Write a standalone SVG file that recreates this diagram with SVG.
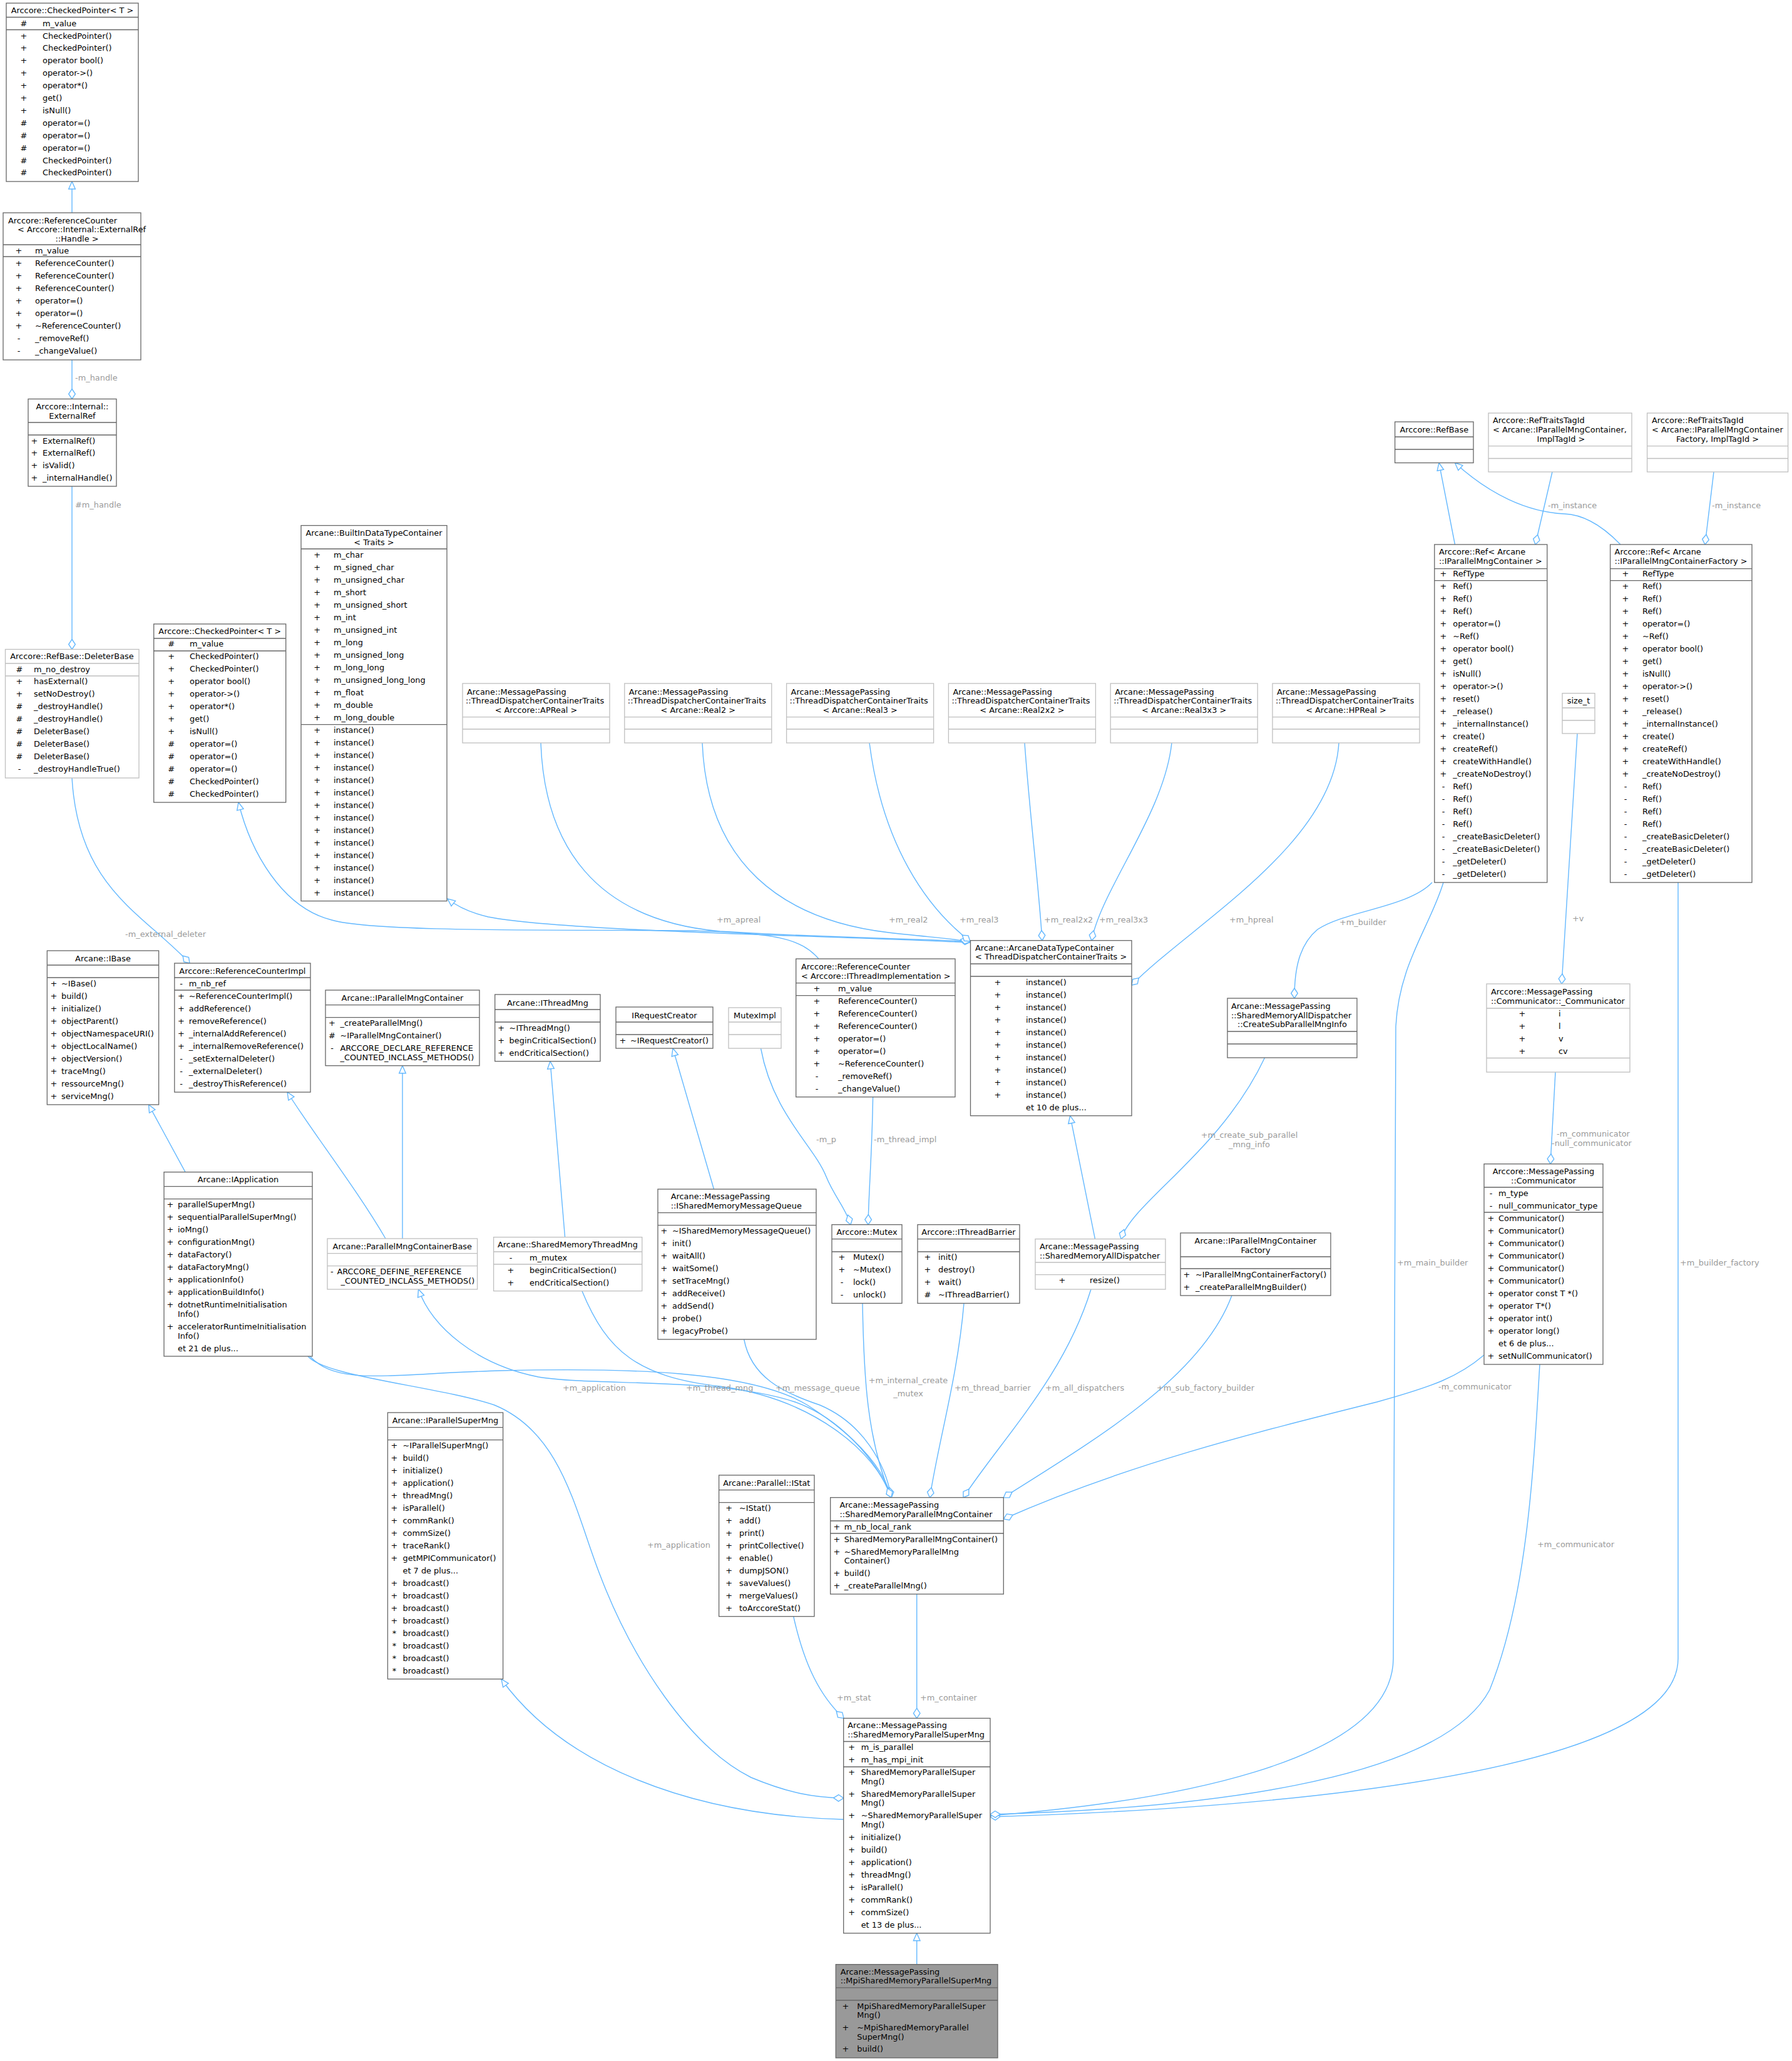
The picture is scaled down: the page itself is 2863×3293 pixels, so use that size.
<svg xmlns="http://www.w3.org/2000/svg" width="2863" height="3293" viewBox="0 0 2863 3293">
<defs>
<style>
text{font-family:"DejaVu Sans","Liberation Sans",sans-serif;font-size:12.9px;fill:#000}
.c{text-anchor:middle}
.n{fill:#fff;stroke:#666;stroke-width:1.3}
.nl{fill:#fff;stroke:#bfbfbf;stroke-width:1.3}
.nm{fill:#999;stroke:#666;stroke-width:1.3}
.d{stroke:#666;stroke-width:1.3;fill:none}
.dl{stroke:#bfbfbf;stroke-width:1.3;fill:none}
.e{fill:none;stroke:#63B8FF;stroke-width:1.4}
.i{marker-end:url(#tri)}
.a{marker-end:url(#dia)}
text.l{fill:#9a9a9a}
</style>
<marker id="tri" viewBox="-1 -7 15 14" refX="12" refY="0" markerWidth="15" markerHeight="14" markerUnits="userSpaceOnUse" orient="auto"><path d="M0,-5.3 L12,0 L0,5.3 z" fill="#fff" stroke="#63B8FF" stroke-width="1.4"/></marker>
<marker id="dia" viewBox="-1 -7 18 14" refX="16" refY="0" markerWidth="18" markerHeight="14" markerUnits="userSpaceOnUse" orient="auto"><path d="M0,0 L8,-5.3 L16,0 L8,5.3 z" fill="#fff" stroke="#63B8FF" stroke-width="1.4"/></marker>
</defs>
<rect width="2863" height="3293" fill="#fff"/>

<g id="edges">
<path class="e i" d="M115,340 V290"/>
<path class="e a" d="M115,575 V637.5"/>
<text class="l" x="120" y="608">-m_handle</text>
<path class="e a" d="M115,777 V1037.5"/>
<text class="l" x="120" y="811">#m_handle</text>
<path class="e a" d="M115,1243 C125,1420 230,1460 303,1539"/>
<text class="l" x="200" y="1497">-m_external_deleter</text>
<path class="e i" d="M1308,1532 C1280,1500 1240,1490 1100,1487 C900,1485 600,1490 530,1470 C450,1450 400,1360 381,1282"/>
<path class="e i" d="M1550,1506 C1300,1494 900,1488 780,1465 C750,1458 730,1448 715,1436"/>
<path class="e a" d="M864,1187 C870,1350 950,1470 1150,1488 C1350,1500 1500,1500 1550,1505"/>
<text class="l" x="1145" y="1474">+m_apreal</text>
<path class="e a" d="M1122,1187 C1130,1380 1250,1470 1420,1490 C1480,1497 1530,1500 1550,1505"/>
<text class="l" x="1420" y="1474">+m_real2</text>
<path class="e a" d="M1389,1187 C1410,1350 1480,1450 1550,1504"/>
<text class="l" x="1533" y="1474">+m_real3</text>
<path class="e a" d="M1637,1187 C1645,1300 1660,1420 1665,1502.7"/>
<text class="l" x="1668" y="1474">+m_real2x2</text>
<path class="e a" d="M1872,1187 C1860,1300 1760,1420 1744,1502.7"/>
<text class="l" x="1756" y="1474">+m_real3x3</text>
<path class="e a" d="M2139,1187 C2130,1350 1900,1480 1808,1574"/>
<text class="l" x="1964" y="1474">+m_hpreal</text>
<path class="e a" d="M1215.5,1675 C1235,1780 1300,1830 1320,1880 C1332,1910 1352,1932 1359,1956.7"/>
<text class="l" x="1304" y="1825">-m_p</text>
<path class="e a" d="M1394.6,1752.7 C1393,1850 1388,1900 1387,1956.7"/>
<text class="l" x="1396" y="1825">-m_thread_impl</text>
<path class="e i" d="M643,1979 V1702.7"/>
<path class="e i" d="M616,1979 C570,1900 500,1810 459,1745"/>
<path class="e i" d="M296,1872.7 L237.5,1765"/>
<path class="e i" d="M902.6,1976.7 L879,1695.7"/>
<path class="e i" d="M1140.5,1900 L1075,1675"/>
<path class="e i" d="M1749.5,1979.6 L1709.7,1782.7"/>
<path class="e a" d="M2020.6,1690 C1950,1840 1810,1920 1791,1979.6"/>
<text class="l c" x="1996" y="1817.5">+m_create_sub_parallel</text>
<text class="l c" x="1996" y="1832.5">_mng_info</text>
<path class="e a" d="M2288,1410 C2250,1450 2150,1455 2105,1485 C2075,1510 2068,1550 2068,1595"/>
<text class="l" x="2140" y="1478">+m_builder</text>
<path class="e a" d="M2306,1410 C2285,1480 2235,1540 2230,1640 L2226,2650 C2225,2820 1850,2880 1582,2901"/>
<text class="l" x="2232" y="2022">+m_main_builder</text>
<path class="e a" d="M2681,1410 L2681,2650 C2681,2840 2000,2890 1582,2903"/>
<text class="l" x="2684" y="2022">+m_builder_factory</text>
<path class="e a" d="M2460,2180 C2450,2350 2440,2550 2380,2700 C2300,2850 1900,2890 1582,2899"/>
<text class="l" x="2456" y="2472">+m_communicator</text>
<path class="e a" d="M2371,2165 C2330,2200 2290,2215 2200,2240 C2000,2290 1800,2340 1603.3,2427"/>
<text class="l" x="2298" y="2220">-m_communicator</text>
<path class="e a" d="M495,2167 C540,2215 620,2195 800,2190 C1000,2185 1200,2190 1290,2245 C1360,2290 1410,2340 1424,2392.7"/>
<text class="l" x="899" y="2222">+m_application</text>
<path class="e i" d="M1424,2392.7 C1400,2330 1340,2265 1270,2240 C1150,2200 950,2215 860,2200 C760,2180 690,2120 668.5,2060"/>
<path class="e a" d="M930,2063 C970,2160 1020,2200 1150,2215 C1300,2235 1400,2320 1424,2392.7"/>
<text class="l" x="1096" y="2222">+m_thread_mng</text>
<path class="e a" d="M1188.7,2140 C1200,2200 1250,2225 1310,2245 C1380,2275 1415,2340 1424,2392.7"/>
<text class="l" x="1239" y="2222">+m_message_queue</text>
<path class="e a" d="M1378,2082.4 C1380,2200 1385,2300 1424,2392.7"/>
<text class="l c" x="1451" y="2209.5">+m_internal_create</text>
<text class="l c" x="1451" y="2230.5">_mutex</text>
<path class="e a" d="M1540,2082.4 C1530,2200 1500,2300 1485.5,2392.7"/>
<text class="l" x="1525" y="2222">+m_thread_barrier</text>
<path class="e a" d="M1743,2060 C1700,2200 1600,2300 1539,2392.7"/>
<text class="l" x="1670" y="2222">+m_all_dispatchers</text>
<path class="e a" d="M1968,2070 C1920,2200 1750,2300 1603.3,2392.7"/>
<text class="l" x="1848" y="2222">+m_sub_factory_builder</text>
<path class="e a" d="M492,2167 C520,2200 700,2215 790,2245 C900,2290 920,2420 960,2520 C1010,2650 1100,2790 1200,2840 C1260,2865 1300,2872 1347.7,2873"/>
<text class="l" x="1034" y="2473">+m_application</text>
<path class="e i" d="M1347.7,2907 C1100,2900 900,2820 801,2683"/>
<path class="e a" d="M1267.8,2583 C1285,2660 1310,2710 1348,2745.4"/>
<text class="l" x="1337" y="2717">+m_stat</text>
<path class="e a" d="M1464.7,2547 V2745.4"/>
<text class="l" x="1470" y="2717">+m_container</text>
<path class="e i" d="M1464.7,3138.7 V3088.8"/>
<path class="e a" d="M2520,1172 L2495,1572"/>
<text class="l" x="2512" y="1472">+v</text>
<path class="e a" d="M2485,1713 L2477,1859.7"/>
<text class="l" x="2487" y="1816">-m_communicator</text>
<text class="l" x="2479" y="1831">-null_communicator</text>
<path class="e i" d="M2324.5,870 L2299,739.5"/>
<path class="e i" d="M2589,870 C2560,840 2530,822 2499,821 C2440,818 2380,790 2324.5,739.5"/>
<path class="e a" d="M2480,754 L2453,870"/>
<text class="l" x="2473" y="812">-m_instance</text>
<path class="e a" d="M2738,754 L2724,870"/>
<text class="l" x="2735" y="812">-m_instance</text>
</g>

<g id="n_checkedpointer_top">
<rect class="n" x="10" y="5" width="211" height="285"/>
<path class="d" d="M10,27.5H221M10,47.5H221"/>
<text class="c" x="115.5" y="21">Arccore::CheckedPointer&lt; T &gt;</text>
<text class="c"><tspan x="38" y="41.5">#</tspan><tspan x="38" y="61.5">+</tspan><tspan x="38" y="81.4">+</tspan><tspan x="38" y="101.3">+</tspan><tspan x="38" y="121.2">+</tspan><tspan x="38" y="141.1">+</tspan><tspan x="38" y="161">+</tspan><tspan x="38" y="180.9">+</tspan><tspan x="38" y="200.8">#</tspan><tspan x="38" y="220.7">#</tspan><tspan x="38" y="240.6">#</tspan><tspan x="38" y="260.5">#</tspan><tspan x="38" y="280.4">#</tspan></text>
<text><tspan x="68" y="41.5">m_value</tspan><tspan x="68" y="61.5">CheckedPointer()</tspan><tspan x="68" y="81.4">CheckedPointer()</tspan><tspan x="68" y="101.3">operator bool()</tspan><tspan x="68" y="121.2">operator-&gt;()</tspan><tspan x="68" y="141.1">operator*()</tspan><tspan x="68" y="161">get()</tspan><tspan x="68" y="180.9">isNull()</tspan><tspan x="68" y="200.8">operator=()</tspan><tspan x="68" y="220.7">operator=()</tspan><tspan x="68" y="240.6">operator=()</tspan><tspan x="68" y="260.5">CheckedPointer()</tspan><tspan x="68" y="280.4">CheckedPointer()</tspan></text>
</g>

<g id="n_refcounter_handle">
<rect class="n" x="5" y="340" width="220" height="235"/>
<path class="d" d="M5,391H225M5,410H225"/>
<text x="13" y="356.5">Arccore::ReferenceCounter</text>
<text x="28" y="371">&lt; Arccore::Internal::ExternalRef</text>
<text class="c" x="123" y="385.5">::Handle &gt;</text>
<text class="c"><tspan x="30" y="404.5">+</tspan><tspan x="30" y="424.5">+</tspan><tspan x="30" y="444.6">+</tspan><tspan x="30" y="464.7">+</tspan><tspan x="30" y="484.8">+</tspan><tspan x="30" y="504.9">+</tspan><tspan x="30" y="525">+</tspan><tspan x="30" y="545.1">-</tspan><tspan x="30" y="565.2">-</tspan></text>
<text><tspan x="56" y="404.5">m_value</tspan><tspan x="56" y="424.5">ReferenceCounter()</tspan><tspan x="56" y="444.6">ReferenceCounter()</tspan><tspan x="56" y="464.7">ReferenceCounter()</tspan><tspan x="56" y="484.8">operator=()</tspan><tspan x="56" y="504.9">operator=()</tspan><tspan x="56" y="525">~ReferenceCounter()</tspan><tspan x="56" y="545.1">_removeRef()</tspan><tspan x="56" y="565.2">_changeValue()</tspan></text>
</g>

<g id="n_externalref">
<rect class="n" x="45" y="637.5" width="141" height="139.5"/>
<path class="d" d="M45,675H186M45,695H186"/>
<text class="c" x="115.5" y="653.5">Arccore::Internal::</text>
<text class="c" x="115.5" y="668.5">ExternalRef</text>
<text class="c"><tspan x="55" y="708.5">+</tspan><tspan x="55" y="728.3">+</tspan><tspan x="55" y="748.2">+</tspan><tspan x="55" y="768.2">+</tspan></text>
<text><tspan x="68" y="708.5">ExternalRef()</tspan><tspan x="68" y="728.3">ExternalRef()</tspan><tspan x="68" y="748.2">isValid()</tspan><tspan x="68" y="768.2">_internalHandle()</tspan></text>
</g>

<g id="n_deleterbase">
<rect class="nl" x="8.5" y="1037.5" width="213.5" height="205.5"/>
<path class="dl" d="M8.5,1060H222M8.5,1080H222"/>
<text class="c" x="115" y="1052.5">Arccore::RefBase::DeleterBase</text>
<text class="c"><tspan x="31" y="1073.5">#</tspan><tspan x="31" y="1092.5">+</tspan><tspan x="31" y="1112.5">+</tspan><tspan x="31" y="1132.5">#</tspan><tspan x="31" y="1152.5">#</tspan><tspan x="31" y="1172.5">#</tspan><tspan x="31" y="1192.5">#</tspan><tspan x="31" y="1212.5">#</tspan><tspan x="31" y="1232.5">-</tspan></text>
<text><tspan x="54" y="1073.5">m_no_destroy</tspan><tspan x="54" y="1092.5">hasExternal()</tspan><tspan x="54" y="1112.5">setNoDestroy()</tspan><tspan x="54" y="1132.5">_destroyHandle()</tspan><tspan x="54" y="1152.5">_destroyHandle()</tspan><tspan x="54" y="1172.5">DeleterBase()</tspan><tspan x="54" y="1192.5">DeleterBase()</tspan><tspan x="54" y="1212.5">DeleterBase()</tspan><tspan x="54" y="1232.5">_destroyHandleTrue()</tspan></text>
</g>

<g id="n_checkedpointer_mid">
<rect class="n" x="245.7" y="997" width="211" height="285"/>
<path class="d" d="M245.7,1020H456.7M245.7,1040H456.7"/>
<text class="c" x="351.2" y="1013">Arccore::CheckedPointer&lt; T &gt;</text>
<text class="c"><tspan x="273.7" y="1033">#</tspan><tspan x="273.7" y="1052.5">+</tspan><tspan x="273.7" y="1072.5">+</tspan><tspan x="273.7" y="1092.5">+</tspan><tspan x="273.7" y="1112.5">+</tspan><tspan x="273.7" y="1132.5">+</tspan><tspan x="273.7" y="1152.5">+</tspan><tspan x="273.7" y="1172.5">+</tspan><tspan x="273.7" y="1192.5">#</tspan><tspan x="273.7" y="1212.5">#</tspan><tspan x="273.7" y="1232.5">#</tspan><tspan x="273.7" y="1252.5">#</tspan><tspan x="273.7" y="1272.5">#</tspan></text>
<text><tspan x="303" y="1033">m_value</tspan><tspan x="303" y="1052.5">CheckedPointer()</tspan><tspan x="303" y="1072.5">CheckedPointer()</tspan><tspan x="303" y="1092.5">operator bool()</tspan><tspan x="303" y="1112.5">operator-&gt;()</tspan><tspan x="303" y="1132.5">operator*()</tspan><tspan x="303" y="1152.5">get()</tspan><tspan x="303" y="1172.5">isNull()</tspan><tspan x="303" y="1192.5">operator=()</tspan><tspan x="303" y="1212.5">operator=()</tspan><tspan x="303" y="1232.5">operator=()</tspan><tspan x="303" y="1252.5">CheckedPointer()</tspan><tspan x="303" y="1272.5">CheckedPointer()</tspan></text>
</g>

<g id="n_builtin">
<rect class="n" x="481" y="839.6" width="233" height="600"/>
<path class="d" d="M481,877H714M481,1157.6H714"/>
<text class="c" x="597.5" y="856">Arcane::BuiltInDataTypeContainer</text>
<text class="c" x="597.5" y="870.5">&lt; Traits &gt;</text>
<text class="c"><tspan x="506.7" y="890.5">+</tspan><tspan x="506.7" y="910.5">+</tspan><tspan x="506.7" y="930.5">+</tspan><tspan x="506.7" y="950.5">+</tspan><tspan x="506.7" y="970.5">+</tspan><tspan x="506.7" y="990.5">+</tspan><tspan x="506.7" y="1010.5">+</tspan><tspan x="506.7" y="1030.5">+</tspan><tspan x="506.7" y="1050.5">+</tspan><tspan x="506.7" y="1070.5">+</tspan><tspan x="506.7" y="1090.5">+</tspan><tspan x="506.7" y="1110.5">+</tspan><tspan x="506.7" y="1130.5">+</tspan><tspan x="506.7" y="1150.5">+</tspan><tspan x="506.7" y="1170.5">+</tspan><tspan x="506.7" y="1190.5">+</tspan><tspan x="506.7" y="1210.5">+</tspan><tspan x="506.7" y="1230.5">+</tspan><tspan x="506.7" y="1250.5">+</tspan><tspan x="506.7" y="1270.5">+</tspan><tspan x="506.7" y="1290.5">+</tspan><tspan x="506.7" y="1310.5">+</tspan><tspan x="506.7" y="1330.5">+</tspan><tspan x="506.7" y="1350.5">+</tspan><tspan x="506.7" y="1370.5">+</tspan><tspan x="506.7" y="1390.5">+</tspan><tspan x="506.7" y="1410.5">+</tspan><tspan x="506.7" y="1430.5">+</tspan></text>
<text><tspan x="533" y="890.5">m_char</tspan><tspan x="533" y="910.5">m_signed_char</tspan><tspan x="533" y="930.5">m_unsigned_char</tspan><tspan x="533" y="950.5">m_short</tspan><tspan x="533" y="970.5">m_unsigned_short</tspan><tspan x="533" y="990.5">m_int</tspan><tspan x="533" y="1010.5">m_unsigned_int</tspan><tspan x="533" y="1030.5">m_long</tspan><tspan x="533" y="1050.5">m_unsigned_long</tspan><tspan x="533" y="1070.5">m_long_long</tspan><tspan x="533" y="1090.5">m_unsigned_long_long</tspan><tspan x="533" y="1110.5">m_float</tspan><tspan x="533" y="1130.5">m_double</tspan><tspan x="533" y="1150.5">m_long_double</tspan><tspan x="533" y="1170.5">instance()</tspan><tspan x="533" y="1190.5">instance()</tspan><tspan x="533" y="1210.5">instance()</tspan><tspan x="533" y="1230.5">instance()</tspan><tspan x="533" y="1250.5">instance()</tspan><tspan x="533" y="1270.5">instance()</tspan><tspan x="533" y="1290.5">instance()</tspan><tspan x="533" y="1310.5">instance()</tspan><tspan x="533" y="1330.5">instance()</tspan><tspan x="533" y="1350.5">instance()</tspan><tspan x="533" y="1370.5">instance()</tspan><tspan x="533" y="1390.5">instance()</tspan><tspan x="533" y="1410.5">instance()</tspan><tspan x="533" y="1430.5">instance()</tspan></text>
</g>

<g id="n_traits_apreal">
<rect class="nl" x="739" y="1092" width="235" height="95"/>
<path class="dl" d="M739,1145.7H974M739,1165H974"/>
<text x="746" y="1109.5">Arcane::MessagePassing</text>
<text x="744" y="1124">::ThreadDispatcherContainerTraits</text>
<text class="c" x="856.5" y="1138.5">&lt; Arccore::APReal &gt;</text>
</g>
<g id="n_traits_real2">
<rect class="nl" x="997.8" y="1092" width="235" height="95"/>
<path class="dl" d="M997.8,1145.7H1232.8M997.8,1165H1232.8"/>
<text x="1004.8" y="1109.5">Arcane::MessagePassing</text>
<text x="1002.8" y="1124">::ThreadDispatcherContainerTraits</text>
<text class="c" x="1115.3" y="1138.5">&lt; Arcane::Real2 &gt;</text>
</g>
<g id="n_traits_real3">
<rect class="nl" x="1256.6" y="1092" width="235" height="95"/>
<path class="dl" d="M1256.6,1145.7H1491.6M1256.6,1165H1491.6"/>
<text x="1263.6" y="1109.5">Arcane::MessagePassing</text>
<text x="1261.6" y="1124">::ThreadDispatcherContainerTraits</text>
<text class="c" x="1374.1" y="1138.5">&lt; Arcane::Real3 &gt;</text>
</g>
<g id="n_traits_real2x2">
<rect class="nl" x="1515.4" y="1092" width="235" height="95"/>
<path class="dl" d="M1515.4,1145.7H1750.4M1515.4,1165H1750.4"/>
<text x="1522.4" y="1109.5">Arcane::MessagePassing</text>
<text x="1520.4" y="1124">::ThreadDispatcherContainerTraits</text>
<text class="c" x="1632.9" y="1138.5">&lt; Arcane::Real2x2 &gt;</text>
</g>
<g id="n_traits_real3x3">
<rect class="nl" x="1774.2" y="1092" width="235" height="95"/>
<path class="dl" d="M1774.2,1145.7H2009.2M1774.2,1165H2009.2"/>
<text x="1781.2" y="1109.5">Arcane::MessagePassing</text>
<text x="1779.2" y="1124">::ThreadDispatcherContainerTraits</text>
<text class="c" x="1891.7" y="1138.5">&lt; Arcane::Real3x3 &gt;</text>
</g>
<g id="n_traits_hpreal">
<rect class="nl" x="2033" y="1092" width="235" height="95"/>
<path class="dl" d="M2033,1145.7H2268M2033,1165H2268"/>
<text x="2040" y="1109.5">Arcane::MessagePassing</text>
<text x="2038" y="1124">::ThreadDispatcherContainerTraits</text>
<text class="c" x="2150.5" y="1138.5">&lt; Arcane::HPReal &gt;</text>
</g>

<g id="n_arcanedatatypecontainer">
<rect class="n" x="1550.5" y="1502.7" width="257.5" height="280"/>
<path class="d" d="M1550.5,1540H1808M1550.5,1560H1808"/>
<text x="1558" y="1518.5">Arcane::ArcaneDataTypeContainer</text>
<text x="1558" y="1533">&lt; ThreadDispatcherContainerTraits &gt;</text>
<text class="c"><tspan x="1594" y="1573.5">+</tspan><tspan x="1594" y="1593.5">+</tspan><tspan x="1594" y="1613.5">+</tspan><tspan x="1594" y="1633.5">+</tspan><tspan x="1594" y="1653.5">+</tspan><tspan x="1594" y="1673.5">+</tspan><tspan x="1594" y="1693.5">+</tspan><tspan x="1594" y="1713.5">+</tspan><tspan x="1594" y="1733.5">+</tspan><tspan x="1594" y="1753.5">+</tspan></text>
<text><tspan x="1639" y="1573.5">instance()</tspan><tspan x="1639" y="1593.5">instance()</tspan><tspan x="1639" y="1613.5">instance()</tspan><tspan x="1639" y="1633.5">instance()</tspan><tspan x="1639" y="1653.5">instance()</tspan><tspan x="1639" y="1673.5">instance()</tspan><tspan x="1639" y="1693.5">instance()</tspan><tspan x="1639" y="1713.5">instance()</tspan><tspan x="1639" y="1733.5">instance()</tspan><tspan x="1639" y="1753.5">instance()</tspan><tspan x="1639" y="1773.5">et 10 de plus...</tspan></text>
</g>

<g id="n_refbase">
<rect class="n" x="2228.6" y="674" width="125.4" height="65.5"/>
<path class="d" d="M2228.6,698H2354M2228.6,718H2354"/>
<text class="c" x="2291.3" y="690.5">Arccore::RefBase</text>
</g>

<g id="n_reftraits_container">
<rect class="nl" x="2378" y="660" width="229" height="94"/>
<path class="dl" d="M2378,712.6H2607M2378,732.5H2607"/>
<text x="2385" y="675.5">Arccore::RefTraitsTagId</text>
<text x="2385" y="690.5">&lt; Arcane::IParallelMngContainer,</text>
<text class="c" x="2494" y="705.5">ImplTagId &gt;</text>
</g>

<g id="n_reftraits_factory">
<rect class="nl" x="2631.6" y="660" width="225" height="94"/>
<path class="dl" d="M2631.6,712.6H2856.6M2631.6,732.5H2856.6"/>
<text x="2639" y="675.5">Arccore::RefTraitsTagId</text>
<text x="2639" y="690.5">&lt; Arcane::IParallelMngContainer</text>
<text class="c" x="2744" y="705.5">Factory, ImplTagId &gt;</text>
</g>

<g id="n_ref_container">
<rect class="n" x="2291.8" y="870" width="180" height="540"/>
<path class="d" d="M2291.8,908.7H2471.8M2291.8,927.6H2471.8"/>
<text x="2299" y="886">Arccore::Ref&lt; Arcane</text>
<text x="2299" y="901">::IParallelMngContainer &gt;</text>
<text class="c"><tspan x="2306" y="921">+</tspan><tspan x="2306" y="941">+</tspan><tspan x="2306" y="961">+</tspan><tspan x="2306" y="981">+</tspan><tspan x="2306" y="1001">+</tspan><tspan x="2306" y="1021">+</tspan><tspan x="2306" y="1041">+</tspan><tspan x="2306" y="1061">+</tspan><tspan x="2306" y="1081">+</tspan><tspan x="2306" y="1101">+</tspan><tspan x="2306" y="1121">+</tspan><tspan x="2306" y="1141">+</tspan><tspan x="2306" y="1161">+</tspan><tspan x="2306" y="1181">+</tspan><tspan x="2306" y="1201">+</tspan><tspan x="2306" y="1221">+</tspan><tspan x="2306" y="1241">+</tspan><tspan x="2306" y="1261">-</tspan><tspan x="2306" y="1281">-</tspan><tspan x="2306" y="1301">-</tspan><tspan x="2306" y="1321">-</tspan><tspan x="2306" y="1341">-</tspan><tspan x="2306" y="1361">-</tspan><tspan x="2306" y="1381">-</tspan><tspan x="2306" y="1401">-</tspan></text>
<text><tspan x="2321.3" y="921">RefType</tspan><tspan x="2321.3" y="941">Ref()</tspan><tspan x="2321.3" y="961">Ref()</tspan><tspan x="2321.3" y="981">Ref()</tspan><tspan x="2321.3" y="1001">operator=()</tspan><tspan x="2321.3" y="1021">~Ref()</tspan><tspan x="2321.3" y="1041">operator bool()</tspan><tspan x="2321.3" y="1061">get()</tspan><tspan x="2321.3" y="1081">isNull()</tspan><tspan x="2321.3" y="1101">operator-&gt;()</tspan><tspan x="2321.3" y="1121">reset()</tspan><tspan x="2321.3" y="1141">_release()</tspan><tspan x="2321.3" y="1161">_internalInstance()</tspan><tspan x="2321.3" y="1181">create()</tspan><tspan x="2321.3" y="1201">createRef()</tspan><tspan x="2321.3" y="1221">createWithHandle()</tspan><tspan x="2321.3" y="1241">_createNoDestroy()</tspan><tspan x="2321.3" y="1261">Ref()</tspan><tspan x="2321.3" y="1281">Ref()</tspan><tspan x="2321.3" y="1301">Ref()</tspan><tspan x="2321.3" y="1321">Ref()</tspan><tspan x="2321.3" y="1341">_createBasicDeleter()</tspan><tspan x="2321.3" y="1361">_createBasicDeleter()</tspan><tspan x="2321.3" y="1381">_getDeleter()</tspan><tspan x="2321.3" y="1401">_getDeleter()</tspan></text>
</g>

<g id="n_ref_factory">
<rect class="n" x="2572.6" y="870" width="226.4" height="540"/>
<path class="d" d="M2572.6,908.7H2799M2572.6,927.6H2799"/>
<text x="2579.6" y="886">Arccore::Ref&lt; Arcane</text>
<text x="2579.6" y="901">::IParallelMngContainerFactory &gt;</text>
<text class="c"><tspan x="2597" y="921">+</tspan><tspan x="2597" y="941">+</tspan><tspan x="2597" y="961">+</tspan><tspan x="2597" y="981">+</tspan><tspan x="2597" y="1001">+</tspan><tspan x="2597" y="1021">+</tspan><tspan x="2597" y="1041">+</tspan><tspan x="2597" y="1061">+</tspan><tspan x="2597" y="1081">+</tspan><tspan x="2597" y="1101">+</tspan><tspan x="2597" y="1121">+</tspan><tspan x="2597" y="1141">+</tspan><tspan x="2597" y="1161">+</tspan><tspan x="2597" y="1181">+</tspan><tspan x="2597" y="1201">+</tspan><tspan x="2597" y="1221">+</tspan><tspan x="2597" y="1241">+</tspan><tspan x="2597" y="1261">-</tspan><tspan x="2597" y="1281">-</tspan><tspan x="2597" y="1301">-</tspan><tspan x="2597" y="1321">-</tspan><tspan x="2597" y="1341">-</tspan><tspan x="2597" y="1361">-</tspan><tspan x="2597" y="1381">-</tspan><tspan x="2597" y="1401">-</tspan></text>
<text><tspan x="2624" y="921">RefType</tspan><tspan x="2624" y="941">Ref()</tspan><tspan x="2624" y="961">Ref()</tspan><tspan x="2624" y="981">Ref()</tspan><tspan x="2624" y="1001">operator=()</tspan><tspan x="2624" y="1021">~Ref()</tspan><tspan x="2624" y="1041">operator bool()</tspan><tspan x="2624" y="1061">get()</tspan><tspan x="2624" y="1081">isNull()</tspan><tspan x="2624" y="1101">operator-&gt;()</tspan><tspan x="2624" y="1121">reset()</tspan><tspan x="2624" y="1141">_release()</tspan><tspan x="2624" y="1161">_internalInstance()</tspan><tspan x="2624" y="1181">create()</tspan><tspan x="2624" y="1201">createRef()</tspan><tspan x="2624" y="1221">createWithHandle()</tspan><tspan x="2624" y="1241">_createNoDestroy()</tspan><tspan x="2624" y="1261">Ref()</tspan><tspan x="2624" y="1281">Ref()</tspan><tspan x="2624" y="1301">Ref()</tspan><tspan x="2624" y="1321">Ref()</tspan><tspan x="2624" y="1341">_createBasicDeleter()</tspan><tspan x="2624" y="1361">_createBasicDeleter()</tspan><tspan x="2624" y="1381">_getDeleter()</tspan><tspan x="2624" y="1401">_getDeleter()</tspan></text>
</g>

<g id="n_size_t">
<rect class="nl" x="2496" y="1107.7" width="52" height="64.3"/>
<path class="dl" d="M2496,1131H2548M2496,1151H2548"/>
<text class="c" x="2522" y="1123.5">size_t</text>
</g>

<g id="n_communicator_inner">
<rect class="nl" x="2375" y="1572" width="229" height="141"/>
<path class="dl" d="M2375,1611H2604M2375,1690.5H2604"/>
<text x="2382" y="1589">Arccore::MessagePassing</text>
<text x="2382" y="1604">::Communicator::_Communicator</text>
<text class="c"><tspan x="2432" y="1623.5">+</tspan><tspan x="2432" y="1643.5">+</tspan><tspan x="2432" y="1664">+</tspan><tspan x="2432" y="1683.5">+</tspan></text>
<text><tspan x="2490" y="1623.5">i</tspan><tspan x="2490" y="1643.5">l</tspan><tspan x="2490" y="1664">v</tspan><tspan x="2490" y="1683.5">cv</tspan></text>
</g>

<g id="n_communicator">
<rect class="n" x="2371" y="1859.7" width="190" height="320.3"/>
<path class="d" d="M2371,1897H2561M2371,1937H2561"/>
<text class="c" x="2466" y="1876">Arccore::MessagePassing</text>
<text class="c" x="2466" y="1890.5">::Communicator</text>
<text class="c"><tspan x="2382" y="1910.5">-</tspan><tspan x="2382" y="1930.5">-</tspan><tspan x="2382" y="1950.5">+</tspan><tspan x="2382" y="1970.5">+</tspan><tspan x="2382" y="1990.5">+</tspan><tspan x="2382" y="2010.5">+</tspan><tspan x="2382" y="2030.5">+</tspan><tspan x="2382" y="2050.5">+</tspan><tspan x="2382" y="2070.5">+</tspan><tspan x="2382" y="2090.5">+</tspan><tspan x="2382" y="2110.5">+</tspan><tspan x="2382" y="2130.5">+</tspan><tspan x="2382" y="2170.5">+</tspan></text>
<text><tspan x="2394" y="1910.5">m_type</tspan><tspan x="2394" y="1930.5">null_communicator_type</tspan><tspan x="2394" y="1950.5">Communicator()</tspan><tspan x="2394" y="1970.5">Communicator()</tspan><tspan x="2394" y="1990.5">Communicator()</tspan><tspan x="2394" y="2010.5">Communicator()</tspan><tspan x="2394" y="2030.5">Communicator()</tspan><tspan x="2394" y="2050.5">Communicator()</tspan><tspan x="2394" y="2070.5">operator const T *()</tspan><tspan x="2394" y="2090.5">operator T*()</tspan><tspan x="2394" y="2110.5">operator int()</tspan><tspan x="2394" y="2130.5">operator long()</tspan><tspan x="2394" y="2150.5">et 6 de plus...</tspan><tspan x="2394" y="2170.5">setNullCommunicator()</tspan></text>
</g>

<g id="n_createsubparallelmnginfo">
<rect class="n" x="1961" y="1595" width="207" height="95"/>
<path class="d" d="M1961,1648H2168M1961,1668H2168"/>
<text x="1967" y="1612">Arcane::MessagePassing</text>
<text x="1967" y="1626.5">::SharedMemoryAllDispatcher</text>
<text class="c" x="2064.5" y="1641">::CreateSubParallelMngInfo</text>
</g>

<g id="n_sharedmemoryalldispatcher">
<rect class="nl" x="1654" y="1979.6" width="208" height="80.4"/>
<path class="dl" d="M1654,2017H1862M1654,2036.7H1862"/>
<text x="1661" y="1996">Arcane::MessagePassing</text>
<text x="1661" y="2010.5">::SharedMemoryAllDispatcher</text>
<text class="c" x="1697" y="2050">+</text>
<text x="1741" y="2050">resize()</text>
</g>

<g id="n_iparallelmngcontainerfactory">
<rect class="n" x="1886" y="1970" width="240" height="100"/>
<path class="d" d="M1886,2008H2126M1886,2027H2126"/>
<text class="c" x="2006" y="1987">Arcane::IParallelMngContainer</text>
<text class="c" x="2006" y="2001.5">Factory</text>
<text class="c"><tspan x="1896" y="2040.5">+</tspan><tspan x="1896" y="2060.5">+</tspan></text>
<text><tspan x="1910" y="2040.5">~IParallelMngContainerFactory()</tspan><tspan x="1910" y="2060.5">_createParallelMngBuilder()</tspan></text>
</g>

<g id="n_mutex">
<rect class="n" x="1329" y="1956.7" width="112" height="125.7"/>
<path class="d" d="M1329,1979.6H1441M1329,2000H1441"/>
<text class="c" x="1385" y="1973">Arccore::Mutex</text>
<text class="c"><tspan x="1345" y="2013">+</tspan><tspan x="1345" y="2033">+</tspan><tspan x="1345" y="2053">-</tspan><tspan x="1345" y="2073">-</tspan></text>
<text><tspan x="1363" y="2013">Mutex()</tspan><tspan x="1363" y="2033">~Mutex()</tspan><tspan x="1363" y="2053">lock()</tspan><tspan x="1363" y="2073">unlock()</tspan></text>
</g>

<g id="n_ithreadbarrier">
<rect class="n" x="1466" y="1956.7" width="163" height="125.7"/>
<path class="d" d="M1466,1979.6H1629M1466,2000H1629"/>
<text class="c" x="1547.5" y="1973">Arccore::IThreadBarrier</text>
<text class="c"><tspan x="1482" y="2013">+</tspan><tspan x="1482" y="2033">+</tspan><tspan x="1482" y="2053">+</tspan><tspan x="1482" y="2073">#</tspan></text>
<text><tspan x="1499" y="2013">init()</tspan><tspan x="1499" y="2033">destroy()</tspan><tspan x="1499" y="2053">wait()</tspan><tspan x="1499" y="2073">~IThreadBarrier()</tspan></text>
</g>

<g id="n_muteximpl">
<rect class="nl" x="1164" y="1610" width="84" height="65"/>
<path class="dl" d="M1164,1633H1248M1164,1653H1248"/>
<text class="c" x="1206" y="1626.5">MutexImpl</text>
</g>

<g id="n_refcounter_threadimpl">
<rect class="n" x="1271.7" y="1532" width="254.3" height="220.7"/>
<path class="d" d="M1271.7,1570.7H1526M1271.7,1590.7H1526"/>
<text x="1280" y="1549">Arccore::ReferenceCounter</text>
<text x="1280" y="1563.5">&lt; Arccore::IThreadImplementation &gt;</text>
<text class="c"><tspan x="1305" y="1583.5">+</tspan><tspan x="1305" y="1603.5">+</tspan><tspan x="1305" y="1623.5">+</tspan><tspan x="1305" y="1643.5">+</tspan><tspan x="1305" y="1663.5">+</tspan><tspan x="1305" y="1683.5">+</tspan><tspan x="1305" y="1703.5">+</tspan><tspan x="1305" y="1723.5">-</tspan><tspan x="1305" y="1743.5">-</tspan></text>
<text><tspan x="1339" y="1583.5">m_value</tspan><tspan x="1339" y="1603.5">ReferenceCounter()</tspan><tspan x="1339" y="1623.5">ReferenceCounter()</tspan><tspan x="1339" y="1643.5">ReferenceCounter()</tspan><tspan x="1339" y="1663.5">operator=()</tspan><tspan x="1339" y="1683.5">operator=()</tspan><tspan x="1339" y="1703.5">~ReferenceCounter()</tspan><tspan x="1339" y="1723.5">_removeRef()</tspan><tspan x="1339" y="1743.5">_changeValue()</tspan></text>
</g>

<g id="n_irequestcreator">
<rect class="n" x="984" y="1609" width="155" height="66"/>
<path class="d" d="M984,1633H1139M984,1653H1139"/>
<text class="c" x="1061.5" y="1627">IRequestCreator</text>
<text class="c" x="995" y="1667">+</text>
<text x="1007" y="1667">~IRequestCreator()</text>
</g>

<g id="n_ithreadmng">
<rect class="n" x="790.7" y="1589" width="168.3" height="106.7"/>
<path class="d" d="M790.7,1613H959M790.7,1633H959"/>
<text class="c" x="875" y="1607">Arcane::IThreadMng</text>
<text class="c"><tspan x="800.6" y="1646.5">+</tspan><tspan x="800.6" y="1666.5">+</tspan><tspan x="800.6" y="1686.5">+</tspan></text>
<text><tspan x="813.6" y="1646.5">~IThreadMng()</tspan><tspan x="813.6" y="1666.5">beginCriticalSection()</tspan><tspan x="813.6" y="1686.5">endCriticalSection()</tspan></text>
</g>

<g id="n_iparallelmngcontainer">
<rect class="n" x="520" y="1582" width="246" height="120.7"/>
<path class="d" d="M520,1605.7H766M520,1625.7H766"/>
<text class="c" x="643" y="1598.5">Arcane::IParallelMngContainer</text>
<text class="c"><tspan x="530.5" y="1638.5">+</tspan><tspan x="530.5" y="1658.5">#</tspan><tspan x="530.5" y="1678.5">-</tspan></text>
<text><tspan x="543.5" y="1638.5">_createParallelMng()</tspan><tspan x="543.5" y="1658.5">~IParallelMngContainer()</tspan><tspan x="543.5" y="1678.5">ARCCORE_DECLARE_REFERENCE</tspan><tspan x="543.5" y="1693.5">_COUNTED_INCLASS_METHODS()</tspan></text>
</g>

<g id="n_referencecounterimpl">
<rect class="n" x="278.8" y="1539" width="217.2" height="206"/>
<path class="d" d="M278.8,1562H496M278.8,1582H496"/>
<text class="c" x="387.4" y="1556">Arccore::ReferenceCounterImpl</text>
<text class="c"><tspan x="289.5" y="1575.5">-</tspan><tspan x="289.5" y="1595.5">+</tspan><tspan x="289.5" y="1615.5">+</tspan><tspan x="289.5" y="1635.5">+</tspan><tspan x="289.5" y="1655.5">+</tspan><tspan x="289.5" y="1675.5">+</tspan><tspan x="289.5" y="1695.5">-</tspan><tspan x="289.5" y="1715.5">-</tspan><tspan x="289.5" y="1735.5">-</tspan></text>
<text><tspan x="301.8" y="1575.5">m_nb_ref</tspan><tspan x="301.8" y="1595.5">~ReferenceCounterImpl()</tspan><tspan x="301.8" y="1615.5">addReference()</tspan><tspan x="301.8" y="1635.5">removeReference()</tspan><tspan x="301.8" y="1655.5">_internalAddReference()</tspan><tspan x="301.8" y="1675.5">_internalRemoveReference()</tspan><tspan x="301.8" y="1695.5">_setExternalDeleter()</tspan><tspan x="301.8" y="1715.5">_externalDeleter()</tspan><tspan x="301.8" y="1735.5">_destroyThisReference()</tspan></text>
</g>

<g id="n_ibase">
<rect class="n" x="75.3" y="1519" width="178.3" height="246"/>
<path class="d" d="M75.3,1542H253.6M75.3,1562H253.6"/>
<text class="c" x="164.5" y="1536">Arcane::IBase</text>
<text class="c"><tspan x="86" y="1575.5">+</tspan><tspan x="86" y="1595.5">+</tspan><tspan x="86" y="1615.5">+</tspan><tspan x="86" y="1635.5">+</tspan><tspan x="86" y="1655.5">+</tspan><tspan x="86" y="1675.5">+</tspan><tspan x="86" y="1695.5">+</tspan><tspan x="86" y="1715.5">+</tspan><tspan x="86" y="1735.5">+</tspan><tspan x="86" y="1755.5">+</tspan></text>
<text><tspan x="98" y="1575.5">~IBase()</tspan><tspan x="98" y="1595.5">build()</tspan><tspan x="98" y="1615.5">initialize()</tspan><tspan x="98" y="1635.5">objectParent()</tspan><tspan x="98" y="1655.5">objectNamespaceURI()</tspan><tspan x="98" y="1675.5">objectLocalName()</tspan><tspan x="98" y="1695.5">objectVersion()</tspan><tspan x="98" y="1715.5">traceMng()</tspan><tspan x="98" y="1735.5">ressourceMng()</tspan><tspan x="98" y="1755.5">serviceMng()</tspan></text>
</g>

<g id="n_iapplication">
<rect class="n" x="262" y="1872.7" width="237" height="294.3"/>
<path class="d" d="M262,1895.7H499M262,1915.7H499"/>
<text class="c" x="380.5" y="1888.5">Arcane::IApplication</text>
<text class="c"><tspan x="272" y="1928.5">+</tspan><tspan x="272" y="1948.5">+</tspan><tspan x="272" y="1968.5">+</tspan><tspan x="272" y="1988.5">+</tspan><tspan x="272" y="2008.5">+</tspan><tspan x="272" y="2028.5">+</tspan><tspan x="272" y="2048.5">+</tspan><tspan x="272" y="2068.5">+</tspan><tspan x="272" y="2088.5">+</tspan><tspan x="272" y="2123.5">+</tspan></text>
<text><tspan x="284" y="1928.5">parallelSuperMng()</tspan><tspan x="284" y="1948.5">sequentialParallelSuperMng()</tspan><tspan x="284" y="1968.5">ioMng()</tspan><tspan x="284" y="1988.5">configurationMng()</tspan><tspan x="284" y="2008.5">dataFactory()</tspan><tspan x="284" y="2028.5">dataFactoryMng()</tspan><tspan x="284" y="2048.5">applicationInfo()</tspan><tspan x="284" y="2068.5">applicationBuildInfo()</tspan><tspan x="284" y="2088.5">dotnetRuntimeInitialisation</tspan><tspan x="284" y="2103.5">Info()</tspan><tspan x="284" y="2123.5">acceleratorRuntimeInitialisation</tspan><tspan x="284" y="2138.5">Info()</tspan><tspan x="284" y="2158.5">et 21 de plus...</tspan></text>
</g>

<g id="n_parallelmngcontainerbase">
<rect class="nl" x="523" y="1979" width="239.6" height="81"/>
<path class="dl" d="M523,2002.7H762.6M523,2022.7H762.6"/>
<text class="c" x="642.8" y="1996">Arcane::ParallelMngContainerBase</text>
<text x="528" y="2036">-</text>
<text x="538.4" y="2036">ARCCORE_DEFINE_REFERENCE</text>
<text x="544.5" y="2051">_COUNTED_INCLASS_METHODS()</text>
</g>

<g id="n_sharedmemorythreadmng">
<rect class="nl" x="788.6" y="1976.7" width="237.2" height="86"/>
<path class="dl" d="M788.6,2000H1025.8M788.6,2020H1025.8"/>
<text class="c" x="907" y="1993">Arcane::SharedMemoryThreadMng</text>
<text class="c"><tspan x="816" y="2013.5">-</tspan><tspan x="816" y="2033.5">+</tspan><tspan x="816" y="2053.5">+</tspan></text>
<text><tspan x="846" y="2013.5">m_mutex</tspan><tspan x="846" y="2033.5">beginCriticalSection()</tspan><tspan x="846" y="2053.5">endCriticalSection()</tspan></text>
</g>

<g id="n_isharedmemorymessagequeue">
<rect class="n" x="1051" y="1900" width="253" height="240"/>
<path class="d" d="M1051,1937.7H1304M1051,1957.7H1304"/>
<text x="1071.7" y="1916">Arcane::MessagePassing</text>
<text x="1071.7" y="1931">::ISharedMemoryMessageQueue</text>
<text class="c"><tspan x="1061" y="1971">+</tspan><tspan x="1061" y="1991">+</tspan><tspan x="1061" y="2011">+</tspan><tspan x="1061" y="2031">+</tspan><tspan x="1061" y="2051">+</tspan><tspan x="1061" y="2071">+</tspan><tspan x="1061" y="2091">+</tspan><tspan x="1061" y="2111">+</tspan><tspan x="1061" y="2131">+</tspan></text>
<text><tspan x="1074" y="1971">~ISharedMemoryMessageQueue()</tspan><tspan x="1074" y="1991">init()</tspan><tspan x="1074" y="2011">waitAll()</tspan><tspan x="1074" y="2031">waitSome()</tspan><tspan x="1074" y="2051">setTraceMng()</tspan><tspan x="1074" y="2071">addReceive()</tspan><tspan x="1074" y="2091">addSend()</tspan><tspan x="1074" y="2111">probe()</tspan><tspan x="1074" y="2131">legacyProbe()</tspan></text>
</g>

<g id="n_iparallelsupermng">
<rect class="n" x="619.4" y="2257" width="184.2" height="425.7"/>
<path class="d" d="M619.4,2280.7H803.6M619.4,2300.7H803.6"/>
<text class="c" x="711.5" y="2274">Arcane::IParallelSuperMng</text>
<text class="c"><tspan x="630" y="2314">+</tspan><tspan x="630" y="2334">+</tspan><tspan x="630" y="2354">+</tspan><tspan x="630" y="2374">+</tspan><tspan x="630" y="2394">+</tspan><tspan x="630" y="2414">+</tspan><tspan x="630" y="2434">+</tspan><tspan x="630" y="2454">+</tspan><tspan x="630" y="2474">+</tspan><tspan x="630" y="2494">+</tspan><tspan x="630" y="2534">+</tspan><tspan x="630" y="2554">+</tspan><tspan x="630" y="2574">+</tspan><tspan x="630" y="2594">+</tspan><tspan x="630" y="2614">*</tspan><tspan x="630" y="2634">*</tspan><tspan x="630" y="2654">*</tspan><tspan x="630" y="2674">*</tspan></text>
<text><tspan x="643.5" y="2314">~IParallelSuperMng()</tspan><tspan x="643.5" y="2334">build()</tspan><tspan x="643.5" y="2354">initialize()</tspan><tspan x="643.5" y="2374">application()</tspan><tspan x="643.5" y="2394">threadMng()</tspan><tspan x="643.5" y="2414">isParallel()</tspan><tspan x="643.5" y="2434">commRank()</tspan><tspan x="643.5" y="2454">commSize()</tspan><tspan x="643.5" y="2474">traceRank()</tspan><tspan x="643.5" y="2494">getMPICommunicator()</tspan><tspan x="643.5" y="2514">et 7 de plus...</tspan><tspan x="643.5" y="2534">broadcast()</tspan><tspan x="643.5" y="2554">broadcast()</tspan><tspan x="643.5" y="2574">broadcast()</tspan><tspan x="643.5" y="2594">broadcast()</tspan><tspan x="643.5" y="2614">broadcast()</tspan><tspan x="643.5" y="2634">broadcast()</tspan><tspan x="643.5" y="2654">broadcast()</tspan><tspan x="643.5" y="2674">broadcast()</tspan></text>
</g>

<g id="n_istat">
<rect class="n" x="1148.6" y="2357" width="152.4" height="225.7"/>
<path class="d" d="M1148.6,2380.7H1301M1148.6,2400.7H1301"/>
<text class="c" x="1224.8" y="2374">Arcane::Parallel::IStat</text>
<text class="c"><tspan x="1164.6" y="2414">+</tspan><tspan x="1164.6" y="2434">+</tspan><tspan x="1164.6" y="2454">+</tspan><tspan x="1164.6" y="2474">+</tspan><tspan x="1164.6" y="2494">+</tspan><tspan x="1164.6" y="2514">+</tspan><tspan x="1164.6" y="2534">+</tspan><tspan x="1164.6" y="2554">+</tspan><tspan x="1164.6" y="2574">+</tspan></text>
<text><tspan x="1181" y="2414">~IStat()</tspan><tspan x="1181" y="2434">add()</tspan><tspan x="1181" y="2454">print()</tspan><tspan x="1181" y="2474">printCollective()</tspan><tspan x="1181" y="2494">enable()</tspan><tspan x="1181" y="2514">dumpJSON()</tspan><tspan x="1181" y="2534">saveValues()</tspan><tspan x="1181" y="2554">mergeValues()</tspan><tspan x="1181" y="2574">toArccoreStat()</tspan></text>
</g>

<g id="n_sharedmemoryparallelmngcontainer">
<rect class="n" x="1326.7" y="2392.7" width="276.6" height="154.3"/>
<path class="d" d="M1326.7,2430H1603.3M1326.7,2450H1603.3"/>
<text x="1341.5" y="2409">Arcane::MessagePassing</text>
<text x="1341.5" y="2423.5">::SharedMemoryParallelMngContainer</text>
<text class="c"><tspan x="1336.8" y="2443.5">+</tspan><tspan x="1336.8" y="2463.5">+</tspan><tspan x="1336.8" y="2483.5">+</tspan><tspan x="1336.8" y="2517.5">+</tspan><tspan x="1336.8" y="2538">+</tspan></text>
<text><tspan x="1348.8" y="2443.5">m_nb_local_rank</tspan><tspan x="1348.8" y="2463.5">SharedMemoryParallelMngContainer()</tspan><tspan x="1348.8" y="2483.5">~SharedMemoryParallelMng</tspan><tspan x="1348.8" y="2498">Container()</tspan><tspan x="1348.8" y="2517.5">build()</tspan><tspan x="1348.8" y="2538">_createParallelMng()</tspan></text>
</g>

<g id="n_sharedmemoryparallelsupermng">
<rect class="n" x="1347.7" y="2745.4" width="234.3" height="343.4"/>
<path class="d" d="M1347.7,2782.5H1582M1347.7,2823H1582"/>
<text x="1354.3" y="2761">Arcane::MessagePassing</text>
<text x="1354.3" y="2775.5">::SharedMemoryParallelSuperMng</text>
<text class="c"><tspan x="1360.7" y="2795.5">+</tspan><tspan x="1360.7" y="2816">+</tspan><tspan x="1360.7" y="2836">+</tspan><tspan x="1360.7" y="2870.5">+</tspan><tspan x="1360.7" y="2905">+</tspan><tspan x="1360.7" y="2939.5">+</tspan><tspan x="1360.7" y="2959.5">+</tspan><tspan x="1360.7" y="2979.5">+</tspan><tspan x="1360.7" y="2999.5">+</tspan><tspan x="1360.7" y="3019.5">+</tspan><tspan x="1360.7" y="3039.5">+</tspan><tspan x="1360.7" y="3059.5">+</tspan></text>
<text><tspan x="1375.7" y="2795.5">m_is_parallel</tspan><tspan x="1375.7" y="2816">m_has_mpi_init</tspan><tspan x="1375.7" y="2836">SharedMemoryParallelSuper</tspan><tspan x="1375.7" y="2850.5">Mng()</tspan><tspan x="1375.7" y="2870.5">SharedMemoryParallelSuper</tspan><tspan x="1375.7" y="2885">Mng()</tspan><tspan x="1375.7" y="2905">~SharedMemoryParallelSuper</tspan><tspan x="1375.7" y="2919.5">Mng()</tspan><tspan x="1375.7" y="2939.5">initialize()</tspan><tspan x="1375.7" y="2959.5">build()</tspan><tspan x="1375.7" y="2979.5">application()</tspan><tspan x="1375.7" y="2999.5">threadMng()</tspan><tspan x="1375.7" y="3019.5">isParallel()</tspan><tspan x="1375.7" y="3039.5">commRank()</tspan><tspan x="1375.7" y="3059.5">commSize()</tspan><tspan x="1375.7" y="3080">et 13 de plus...</tspan></text>
</g>

<g id="n_mpisharedmemoryparallelsupermng">
<rect class="nm" x="1335.3" y="3138.7" width="258.7" height="149.3"/>
<path class="d" d="M1335.3,3175.8H1594M1335.3,3196H1594"/>
<text x="1342.7" y="3154.5">Arcane::MessagePassing</text>
<text x="1342.7" y="3169">::MpiSharedMemoryParallelSuperMng</text>
<text class="c"><tspan x="1351" y="3209.5">+</tspan><tspan x="1351" y="3243.5">+</tspan><tspan x="1351" y="3278">+</tspan></text>
<text><tspan x="1369.3" y="3209.5">MpiSharedMemoryParallelSuper</tspan><tspan x="1369.3" y="3224">Mng()</tspan><tspan x="1369.3" y="3243.5">~MpiSharedMemoryParallel</tspan><tspan x="1369.3" y="3258.5">SuperMng()</tspan><tspan x="1369.3" y="3278">build()</tspan></text>
</g>
</svg>
